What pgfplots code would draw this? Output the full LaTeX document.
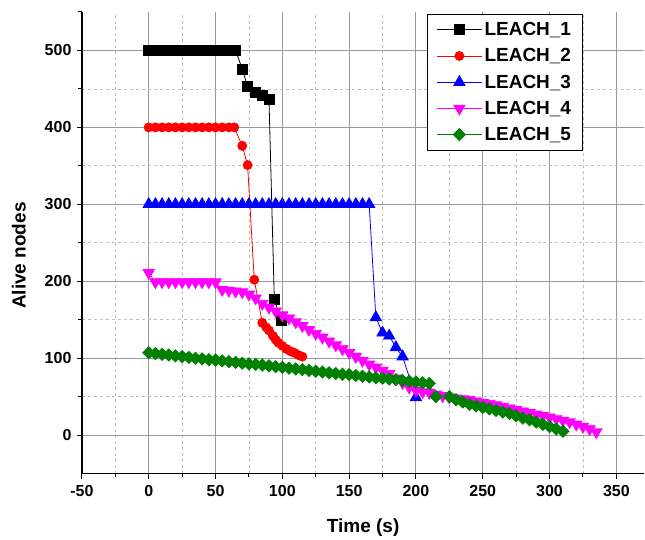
\documentclass[border=0pt]{standalone}
\usepackage{fontspec}
\setmainfont{Liberation Sans}
\usepackage{pgfplots}
\pgfplotsset{compat=1.18}
\definecolor{cgreen}{RGB}{0,128,0}
\definecolor{cmag}{RGB}{255,0,255}
\begin{document}
\begin{tikzpicture}
\begin{axis}[
 scale only axis, width=563pt, height=462pt,
 xmin=-50, xmax=371, ymin=-50, ymax=550,
 axis x line*=bottom, axis y line*=left,
 axis line style={-, black, line width=1.2pt},
 xtick={-50,0,...,350}, ytick={0,100,...,500},
 minor xtick={-25,25,...,375}, minor ytick={50,150,...,450},
 extra y ticks={550}, extra y tick labels={}, extra y tick style={grid=none, major tick length=3.5pt},
 grid=both,
 major grid style={draw=black!40, line width=0.9pt},
 minor grid style={draw=black!25, dash pattern=on 3pt off 3pt, line width=0.8pt},
 tick align=outside, major tick length=5pt, minor tick length=3.5pt,
 tick style={black, line width=1pt},
 /pgf/number format/assume math mode=true,
 ticklabel style={font=\bfseries\fontsize{16}{16}\selectfont},
 xticklabel style={yshift=-3.5pt},
 yticklabel style={xshift=-2pt},
 xlabel={Time (s)}, ylabel={Alive nodes},
 label style={font=\bfseries\fontsize{19}{19}\selectfont},
 xlabel style={at={(axis description cs:0.5,-0.117)}, anchor=center},
 ylabel style={at={(axis description cs:-0.112,0.472)}, anchor=center},
 every axis plot/.append style={line width=0.8pt},
 legend style={at={(rel axis cs:0.890,0.996)}, anchor=north east, draw=black, line width=1pt,
   font=\bfseries\fontsize{19}{19}\selectfont, nodes={inner sep=2pt}, row sep=7.5pt,
   inner xsep=9pt, inner ysep=6pt},
 legend cell align=left,
 legend image code/.code={\draw[mark repeat=2,mark phase=2] plot coordinates {(0cm,0cm) (0.8cm,0cm) (1.6cm,0cm)};},
]
\addplot[color=black, mark=square*, mark size=5pt] coordinates {
(0,500)(5,500)(10,500)(15,500)(20,500)(25,500)(30,500)(35,500)(40,500)(45,500)(50,500)(55,500)(60,500)(65,500)
(70,476)(74,453)(80,446)(85,442)(90,437)(94,176)(99,149)};
\addlegendentry{LEACH\_1}
\addplot[color=red, mark=*, mark size=4.5pt] coordinates {
(0,400)(5,400)(10,400)(15,400)(20,400)(25,400)(30,400)(35,400)(40,400)(45,400)(50,400)(55,400)(60,400)(64,400)
(70,376)(74,351)(79,202)(85,146)(88,140)(90,136)(93,129)(95,124)(97,120)(100,116)(103,112)(106,109)(109,107)(112,104)(115,102)};
\addlegendentry{LEACH\_2}
\addplot[color=blue, mark=triangle*, mark size=6.5pt] coordinates {
(0,300)(5,300)(10,300)(15,300)(20,300)(25,300)(30,300)(35,300)(40,300)(45,300)(50,300)(55,300)(60,300)(65,300)
(70,300)(75,300)(80,300)(85,300)(90,300)(95,300)(100,300)(105,300)(110,300)(115,300)(120,300)(125,300)(130,300)
(135,300)(140,300)(145,300)(150,300)(155,300)(160,300)(165,300)
(170,153)(175,133)(180,129)(185,114)(190,102)(200,49)};
\addlegendentry{LEACH\_3}
\addplot[color=cmag, mark=triangle*, mark size=6.5pt, mark options={rotate=180}] coordinates {
(0,211)(5,199)(10,199)(15,199)(20,199)(25,199)(30,199)(35,199)(40,199)(45,199)(50,199)
(55,189)(60,188)(65,187)(70,186)(75,183)(80,178)(85,171)(90,166)(95,161)(100,156)(105,152)(110,147)(115,142)
(120,137)(125,132)(130,127)(135,122)(140,117)(145,112)(150,107)(155,102)(160,97)(165,92)(170,88)(175,84)
(180,80)(185,74)(190,68)(195,62)(200,58)(205,56)(210,55)(215,53)(220,51)(225,49)(230,48)(235,47)(240,46)
(245,44)(250,42)(255,41)(260,39)(265,37)(270,35)(275,33)(280,31)(285,29)(290,27)(295,25)(300,23)(305,21)
(310,19)(315,17)(320,14)(325,11)(330,8)(335,4)};
\addlegendentry{LEACH\_4}
\addplot[color=cgreen, mark=square*, mark size=4.3pt, mark options={rotate=45}] coordinates {
(0,107)(5,106)(10,105)(15,104)(20,103)(25,102)(30,101)(35,100)(40,99)(45,98)(50,97.5)(55,96.5)(60,95.5)
(65,94.5)(70,93.5)(75,92.5)(80,92)(85,91)(90,90)(95,89)(100,88)(105,87)(110,86)(115,85)(120,84)(125,83)
(130,82)(135,81)(140,80)(145,79)(150,78.5)(155,77.5)(160,76.5)(165,75.5)(170,74.5)(175,74)(180,73)(185,72)
(190,71)(195,70)(200,69)(205,68)(210,67)(215,50)(225,50)(230,46)(235,43)(240,40)(245,38)(250,36)(255,34)
(260,32)(265,30)(270,28)(275,25)(280,22)(285,20)(290,17)(295,14)(300,11)(305,8)(310,5)};
\addlegendentry{LEACH\_5}
\end{axis}
\path ([xshift=-82pt,yshift=-65pt]current axis.south west) rectangle ([yshift=12pt]current axis.north east);
\end{tikzpicture}
\end{document}
